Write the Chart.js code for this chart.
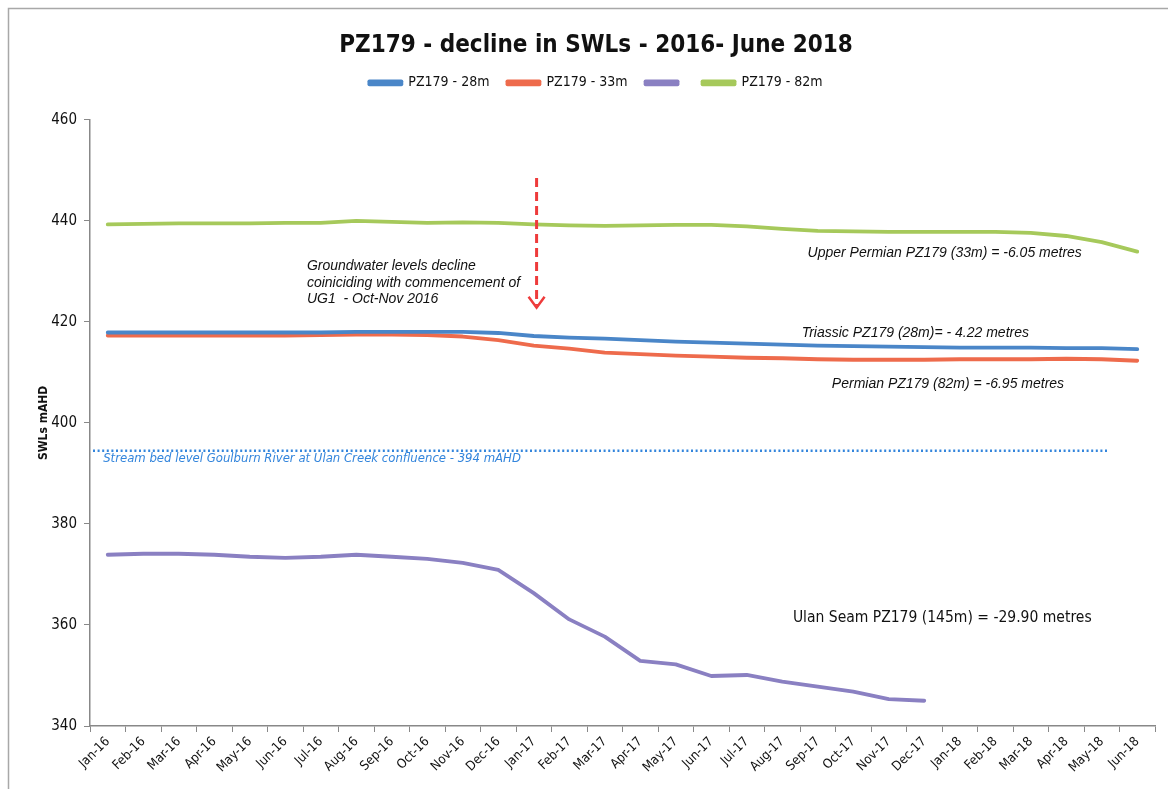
<!DOCTYPE html>
<html>
<head>
<meta charset="utf-8">
<script src="https://cdn.jsdelivr.net/npm/chart.js@4.4.1/dist/chart.umd.min.js"></script>
<style>
  html,body{margin:0;padding:0;background:#fff;}
  #wrap{position:relative;width:1168px;height:789px;}
</style>
</head>
<body>
<div id="wrap"><canvas id="c"></canvas></div>
<script>
const categories = ['Jan-16','Feb-16','Mar-16','Apr-16','May-16','Jun-16','Jul-16','Aug-16','Sep-16','Oct-16','Nov-16','Dec-16',
  'Jan-17','Feb-17','Mar-17','Apr-17','May-17','Jun-17','Jul-17','Aug-17','Sep-17','Oct-17','Nov-17','Dec-17',
  'Jan-18','Feb-18','Mar-18','Apr-18','May-18','Jun-18'];

const pz28m = [417.9,417.9,417.9,417.9,417.9,417.9,417.9,418.0,418.0,418.0,418.0,417.8,
  417.2,416.9,416.7,416.4,416.1,415.9,415.7,415.5,415.3,415.2,415.1,415.0,
  414.9,414.9,414.9,414.8,414.8,414.6];

const pz33m = [417.3,417.3,417.3,417.3,417.3,417.3,417.4,417.5,417.5,417.4,417.1,416.4,
  415.3,414.7,413.9,413.6,413.3,413.1,412.9,412.8,412.6,412.5,412.5,412.5,
  412.6,412.6,412.6,412.7,412.6,412.3];

const pz145m = [373.9,374.1,374.1,373.9,373.5,373.3,373.5,373.9,373.5,373.1,372.3,370.9,
  366.3,361.1,357.7,352.9,352.2,349.9,350.1,348.8,347.8,346.8,345.3,345.0,
  null,null,null,null,null,null];

const pz82m = [439.3,439.4,439.5,439.5,439.5,439.6,439.6,440.0,439.8,439.6,439.7,439.6,
  439.3,439.1,439.0,439.1,439.2,439.2,438.9,438.4,438.0,437.9,437.8,437.8,
  437.8,437.8,437.6,437.0,435.8,433.9];

const seriesLabels = ['PZ179 - 28m','PZ179 - 33m','','PZ179 - 82m'];
const yTicks = [340,360,380,400,420,440,460];
const streamLevel = 394.5;

const COL = {blue:'#4a86c8', red:'#ee6b4c', purple:'#8a80c2', green:'#a6c95b', stream:'#3385dc', arrow:'#ee3b3b'};
const NARROW = "'Liberation Sans Narrow','DejaVu Sans Condensed',Roboto,sans-serif";
const ARIAL = "'Liberation Sans',Arial,sans-serif";

const notes = [
  {lines:['Groundwater levels decline','coiniciding with commencement of','UG1  - Oct-Nov 2016'], xi:5.61, yv:430.95, align:'left', font:'italic 14px '+ARIAL, color:'#111', lh:16.3},
  {lines:['Upper Permian PZ179 (33m) = -6.05 metres'], xi:27.44, yv:433.6, align:'right', font:'italic 14px '+ARIAL, color:'#111', lh:16},
  {lines:['Triassic PZ179 (28m)= - 4.22 metres'], xi:25.95, yv:417.8, align:'right', font:'italic 14px '+ARIAL, color:'#111', lh:16},
  {lines:['Permian PZ179 (82m) = -6.95 metres'], xi:26.94, yv:407.7, align:'right', font:'italic 14px '+ARIAL, color:'#111', lh:16},
  {lines:['Ulan Seam PZ179 (145m) = -29.90 metres'], xi:19.3, yv:361.3, align:'left', font:'15.5px '+NARROW, color:'#111', lh:16},
  {lines:['Stream bed level Goulburn River at Ulan Creek confluence - 394 mAHD'], xi:-0.13, yv:392.9, align:'left', font:'italic 13px '+NARROW, color:COL.stream, lh:16}
];
const arrowSpec = {xi:12.08, from:448.5, to:422.8};

const frame = {
  id:'frame',
  beforeDraw(chart){
    const ctx = chart.ctx;
    ctx.save();
    ctx.fillStyle='#fff';
    ctx.fillRect(0,0,chart.width,chart.height);
    ctx.strokeStyle='#a8a8a8';
    ctx.lineWidth=1.5;
    ctx.beginPath();
    ctx.moveTo(8.5,chart.height);
    ctx.lineTo(8.5,8.5);
    ctx.lineTo(chart.width,8.5);
    ctx.stroke();
    ctx.restore();
  }
};

const annot = {
  id:'annot',
  afterDatasetsDraw(chart){
    const {ctx, scales:{x,y}} = chart;
    ctx.save();
    const ys = y.getPixelForValue(streamLevel);
    ctx.strokeStyle = COL.stream;
    ctx.lineWidth = 2.5;
    ctx.setLineDash([2,2.6]);
    ctx.beginPath();
    ctx.moveTo(x.left+3, ys);
    ctx.lineTo(x.getPixelForValue(28.2), ys);
    ctx.stroke();
    const ax = x.getPixelForValue(arrowSpec.xi);
    const a1 = y.getPixelForValue(arrowSpec.from), a2 = y.getPixelForValue(arrowSpec.to);
    ctx.strokeStyle = COL.arrow;
    ctx.lineWidth = 3;
    ctx.setLineDash([9,5]);
    ctx.beginPath(); ctx.moveTo(ax,a1); ctx.lineTo(ax,a2-2); ctx.stroke();
    ctx.setLineDash([]);
    ctx.lineWidth = 2.5;
    ctx.beginPath(); ctx.moveTo(ax-8,a2-11); ctx.lineTo(ax,a2); ctx.lineTo(ax+8,a2-11); ctx.stroke();
    ctx.textBaseline='middle';
    for(const n of notes){
      ctx.font = n.font; ctx.fillStyle=n.color; ctx.textAlign=n.align;
      const px = x.getPixelForValue(n.xi), py = y.getPixelForValue(n.yv);
      n.lines.forEach((t,i)=>ctx.fillText(t, px, py + i*n.lh));
    }
    ctx.restore();
  }
};

new Chart(document.getElementById('c'), {
  type:'line',
  data:{
    labels: categories,
    datasets:[
      {label:seriesLabels[0], data:pz28m, borderColor:COL.blue, backgroundColor:COL.blue},
      {label:seriesLabels[1], data:pz33m, borderColor:COL.red, backgroundColor:COL.red},
      {label:seriesLabels[2], data:pz145m, borderColor:COL.purple, backgroundColor:COL.purple},
      {label:seriesLabels[3], data:pz82m, borderColor:COL.green, backgroundColor:COL.green}
    ]
  },
  options:{
    responsive:true, maintainAspectRatio:false, animation:false,
    devicePixelRatio:1,
    layout:{padding:{left:37,right:13,top:0,bottom:0}},
    elements:{line:{borderWidth:3.8, tension:0, borderCapStyle:'round', borderJoinStyle:'round'}, point:{radius:0, hoverRadius:0}},
    plugins:{
      title:{display:true, text:'PZ179 - decline in SWLs - 2016- June 2018', color:'#111',
        font:{family:NARROW, size:24, weight:'bold'}, padding:{top:31, bottom:-2}},
      subtitle:{display:true, text:' ', weight:500, font:{size:10}, padding:{top:4, bottom:4}},
      legend:{display:true, position:'top',
        labels:{color:'#111', font:{family:NARROW, size:14}, boxWidth:32, boxHeight:3, padding:18}},
      tooltip:{enabled:false}
    },
    scales:{
      x:{type:'category', offset:true,
        grid:{display:true, drawOnChartArea:false, offset:true, tickLength:6, color:'#888'},
        border:{display:true, color:'#888', width:1.5},
        ticks:{color:'#111', font:{family:NARROW, size:13}, minRotation:45, maxRotation:45, autoSkip:false, padding:2},
        afterFit(s){ s.height = 63; }
      },
      y:{type:'linear', min:340, max:460,
        afterBuildTicks(s){ s.ticks = yTicks.map(v=>({value:v})); },
        grid:{display:true, drawOnChartArea:false, tickLength:6, color:'#888'},
        border:{display:true, color:'#888', width:1.5},
        ticks:{color:'#111', font:{family:NARROW, size:15}, padding:7},
        title:{display:true, text:'SWLs mAHD', color:'#111', font:{family:NARROW, size:12, weight:'bold'}, padding:{top:0,bottom:4}},
        afterFit(s){ s.width = 53; }
      }
    }
  },
  plugins:[frame, annot]
});
</script>
</body>
</html>
